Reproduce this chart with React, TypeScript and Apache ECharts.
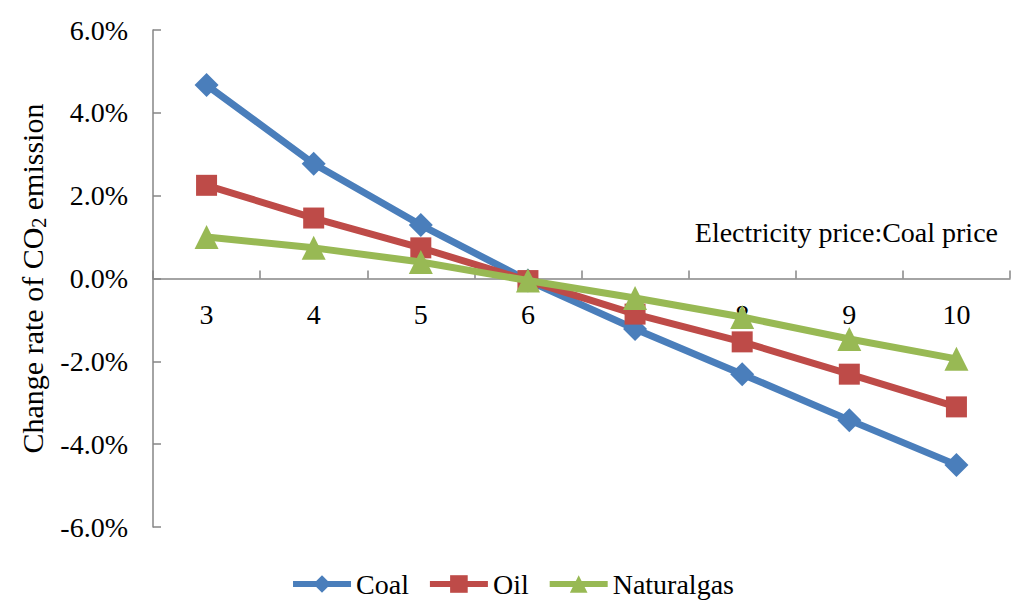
import React from "react";
import * as echarts from "echarts";

const categories = ["3", "4", "5", "6", "7", "8", "9", "10"];
const coal = [4.67, 2.77, 1.29, -0.05, -1.22, -2.31, -3.42, -4.5];
const oil = [2.25, 1.46, 0.74, -0.05, -0.86, -1.53, -2.31, -3.1];
const naturalGas = [1.0, 0.74, 0.4, -0.05, -0.47, -0.93, -1.46, -1.94];

const FONT = "Liberation Serif, Times New Roman, serif";
const GRID_TOP = 30;
const GRID_BOTTOM = 88;
const PLOT_H = 615 - GRID_TOP - GRID_BOTTOM;

export default function App() {
  const chartRef = React.useRef<HTMLDivElement>(null);

  React.useEffect(() => {
    if (!chartRef.current) return;
    const chart = echarts.init(chartRef.current, undefined, { renderer: "svg" });
    const axisColor = "#868686";
    const t = { fontFamily: FONT, fontSize: 28, color: "#000" };
    const rich = { t: { ...t, lineHeight: 32 } };
    const option: echarts.EChartsOption = {
      animation: false,
      textStyle: { fontFamily: FONT, color: "#000" },
      grid: { left: 153, right: 14, top: GRID_TOP, bottom: GRID_BOTTOM },
      legend: {
        bottom: 12,
        left: "center",
        itemWidth: 58,
        itemHeight: 22,
        itemGap: 18,
        lineStyle: { width: 6 },
        textStyle: { ...t, rich },
        formatter: (name: string) => `{t|${name}}`,
        data: ["Coal", "Oil", "Naturalgas"],
      },
      xAxis: {
        type: "category",
        data: categories,
        boundaryGap: true,
        // axis drawn through y = 0
        offset: -PLOT_H / 2,
        name: "{t|Electricity price:Coal price}",
        nameLocation: "end",
        nameGap: -12,
        nameTextStyle: {
          ...t,
          rich,
          align: "right",
          verticalAlign: "bottom",
          padding: [0, 0, 30, 0],
        },
        axisLine: { onZero: false, lineStyle: { color: axisColor, width: 1.5 } },
        axisTick: { show: true, inside: true, length: 8, lineStyle: { color: axisColor, width: 1.5 } },
        axisLabel: { ...t, rich, margin: 20, formatter: (v: string) => `{t|${v}}` },
      },
      yAxis: {
        type: "value",
        min: -6,
        max: 6,
        interval: 2,
        name: "{t|Change rate of CO}{sub|2}{t| emission}",
        nameLocation: "middle",
        nameGap: 98,
        nameTextStyle: {
          rich: {
            t: { ...t, fontSize: 30, lineHeight: 34 },
            sub: {
              fontFamily: FONT,
              fontSize: 20,
              color: "#000",
              lineHeight: 34,
              verticalAlign: "bottom",
              padding: [12, 0, 0, 0],
            },
          },
        },
        axisLine: { show: true, lineStyle: { color: axisColor, width: 1.5 } },
        axisTick: { show: true, inside: true, length: 8, lineStyle: { color: axisColor, width: 1.5 } },
        splitLine: { show: false },
        axisLabel: {
          ...t,
          rich,
          margin: 25,
          formatter: (v: number) => `{t|${v.toFixed(1)}%}`,
        },
      },
      series: [
        {
          name: "Coal",
          type: "line",
          data: coal,
          symbol: "diamond",
          symbolSize: 24,
          lineStyle: { width: 7, color: "#4A7EBB" },
          itemStyle: { color: "#4A7EBB" },
          z: 3,
        },
        {
          name: "Oil",
          type: "line",
          data: oil,
          symbol: "rect",
          symbolSize: 21,
          lineStyle: { width: 7, color: "#BE4B48" },
          itemStyle: { color: "#BE4B48" },
          z: 4,
        },
        {
          name: "Naturalgas",
          type: "line",
          data: naturalGas,
          symbol: "triangle",
          symbolSize: 24,
          lineStyle: { width: 7, color: "#98B954" },
          itemStyle: { color: "#98B954" },
          z: 5,
        },
      ],
    };
    chart.setOption(option);
    return () => {
      chart.dispose();
    };
  }, []);

  return <div ref={chartRef} style={{ width: 1024, height: 615, margin: -8 }} />;
}
